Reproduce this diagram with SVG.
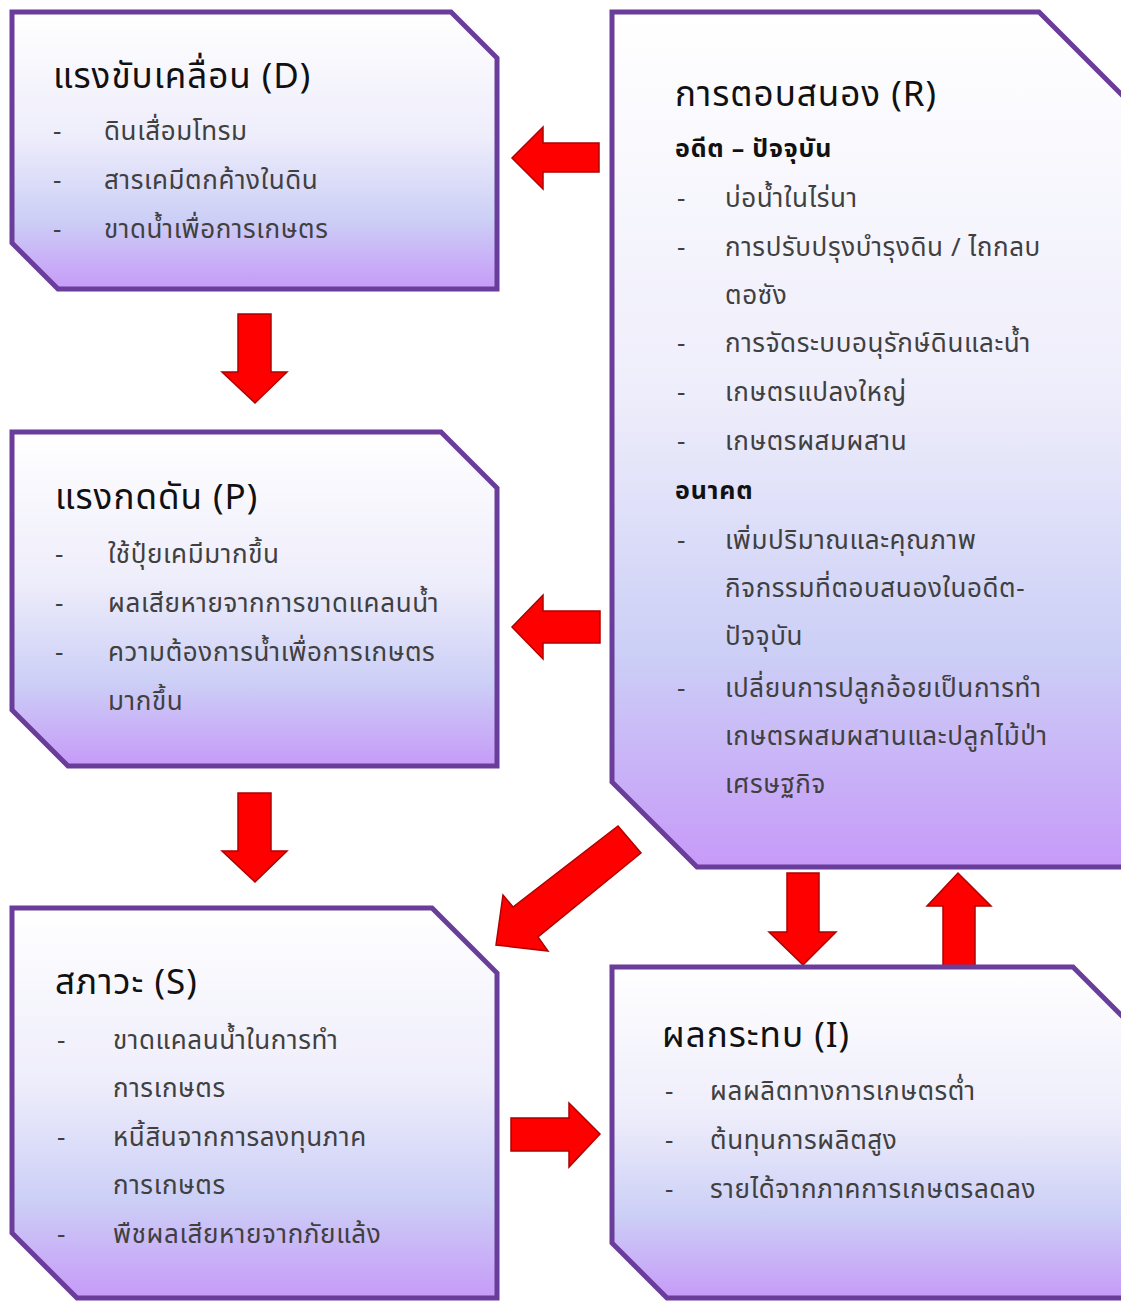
<svg xmlns="http://www.w3.org/2000/svg" width="1121" height="1302" viewBox="0 0 1121 1302">
<defs>
<linearGradient id="boxfill" x1="0" y1="0" x2="0" y2="1">
<stop offset="0" stop-color="#ffffff"/>
<stop offset="0.45" stop-color="#eeedfb"/>
<stop offset="0.75" stop-color="#cccff6"/>
<stop offset="1" stop-color="#c69af8"/>
</linearGradient>
<style>
.box{fill:url(#boxfill);stroke:#6a3d9b;stroke-width:5;stroke-linejoin:miter}
.arrow{fill:#ff0000;stroke:#b00000;stroke-width:1.5;stroke-linejoin:miter}
.title{font-family:"Noto Sans Thai","Noto Sans Thai UI","Leelawadee UI",Tahoma,"Noto Sans","DejaVu Sans",sans-serif;font-size:35px;letter-spacing:1px;fill:#111111}
.sub{font-family:"Noto Sans Thai","Noto Sans Thai UI","Leelawadee UI",Tahoma,"Noto Sans","DejaVu Sans",sans-serif;font-size:25px;letter-spacing:0.8px;font-weight:bold;fill:#111111}
.item{font-family:"Noto Sans Thai","Noto Sans Thai UI","Leelawadee UI",Tahoma,"Noto Sans","DejaVu Sans",sans-serif;font-size:26px;letter-spacing:0.6px;fill:#404040}
</style>
</defs>
<rect width="1121" height="1302" fill="#ffffff"/>

<g id="connectors">
<polygon class="arrow" points="599,143 543,143 543,127 512,158 543,189 543,172 599,172"/>
<polygon class="arrow" points="600,611 543,611 543,595 512,627 543,659 543,643 600,643"/>
<polygon class="arrow" points="238,314 271,314 271,372 287,372 255,403 222,372 238,372"/>
<polygon class="arrow" points="238,793 271,793 271,851 287,851 255,882 222,851 238,851"/>
<polygon class="arrow" points="787,873 819,873 819,932 836,932 803,965 769,932 787,932"/>
<polygon class="arrow" points="943,966 975,966 975,906 991,906 958,873 927,906 943,906"/>
<polygon class="arrow" points="511,1118 569,1118 569,1103 600,1134 569,1167 569,1151 511,1151"/>
<polygon class="arrow" points="618,826 641,853 538,937 548,951 496,945 503,895 513,907"/>
</g>

<g id="node-D">
<polygon class="box" points="12,12 451,12 497,58 497,289 58,289 12,243"/>
<text class="title" x="53" y="88">แรงขับเคลื่อน (D)</text>
<text class="item" x="53" y="140">-</text><text class="item" x="104" y="140">ดินเสื่อมโทรม</text>
<text class="item" x="53" y="189">-</text><text class="item" x="104" y="189">สารเคมีตกค้างในดิน</text>
<text class="item" x="53" y="238">-</text><text class="item" x="104" y="238">ขาดน้ำเพื่อการเกษตร</text>
</g>

<g id="node-P">
<polygon class="box" points="12,432 441,432 497,488 497,766 68,766 12,710"/>
<text class="title" x="55" y="509">แรงกดดัน (P)</text>
<text class="item" x="55" y="563">-</text><text class="item" x="108" y="563">ใช้ปุ๋ยเคมีมากขึ้น</text>
<text class="item" x="55" y="612">-</text><text class="item" x="108" y="612">ผลเสียหายจากการขาดแคลนน้ำ</text>
<text class="item" x="55" y="661">-</text><text class="item" x="108" y="661">ความต้องการน้ำเพื่อการเกษตร</text>
<text class="item" x="108" y="710">มากขึ้น</text>
</g>

<g id="node-R">
<polygon class="box" points="612,12 1039,12 1124,97 1124,867 697,867 612,782"/>
<text class="title" x="675" y="106">การตอบสนอง (R)</text>
<text class="sub" x="675" y="157">อดีต – ปัจจุบัน</text>
<text class="item" x="677" y="207">-</text><text class="item" x="725" y="207">บ่อน้ำในไร่นา</text>
<text class="item" x="677" y="256">-</text><text class="item" x="725" y="256">การปรับปรุงบำรุงดิน / ไถกลบ</text>
<text class="item" x="725" y="304">ตอซัง</text>
<text class="item" x="677" y="352">-</text><text class="item" x="725" y="352">การจัดระบบอนุรักษ์ดินและน้ำ</text>
<text class="item" x="677" y="401">-</text><text class="item" x="725" y="401">เกษตรแปลงใหญ่</text>
<text class="item" x="677" y="450">-</text><text class="item" x="725" y="450">เกษตรผสมผสาน</text>
<text class="sub" x="675" y="499">อนาคต</text>
<text class="item" x="677" y="549">-</text><text class="item" x="725" y="549">เพิ่มปริมาณและคุณภาพ</text>
<text class="item" x="725" y="597">กิจกรรมที่ตอบสนองในอดีต-</text>
<text class="item" x="725" y="645">ปัจจุบัน</text>
<text class="item" x="677" y="697">-</text><text class="item" x="725" y="697">เปลี่ยนการปลูกอ้อยเป็นการทำ</text>
<text class="item" x="725" y="745">เกษตรผสมผสานและปลูกไม้ป่า</text>
<text class="item" x="725" y="793">เศรษฐกิจ</text>
</g>

<g id="node-S">
<polygon class="box" points="12,908 432,908 497,973 497,1298 77,1298 12,1233"/>
<text class="title" x="55" y="994">สภาวะ (S)</text>
<text class="item" x="57" y="1049">-</text><text class="item" x="113" y="1049">ขาดแคลนน้ำในการทำ</text>
<text class="item" x="113" y="1097">การเกษตร</text>
<text class="item" x="57" y="1146">-</text><text class="item" x="113" y="1146">หนี้สินจากการลงทุนภาค</text>
<text class="item" x="113" y="1194">การเกษตร</text>
<text class="item" x="57" y="1243">-</text><text class="item" x="113" y="1243">พืชผลเสียหายจากภัยแล้ง</text>
</g>

<g id="node-I">
<polygon class="box" points="612,967 1073,967 1128,1022 1128,1298 667,1298 612,1243"/>
<text class="title" x="662" y="1047">ผลกระทบ (I)</text>
<text class="item" x="665" y="1100">-</text><text class="item" x="710" y="1100">ผลผลิตทางการเกษตรต่ำ</text>
<text class="item" x="665" y="1149">-</text><text class="item" x="710" y="1149">ต้นทุนการผลิตสูง</text>
<text class="item" x="665" y="1198">-</text><text class="item" x="710" y="1198">รายได้จากภาคการเกษตรลดลง</text>
</g>
</svg>
